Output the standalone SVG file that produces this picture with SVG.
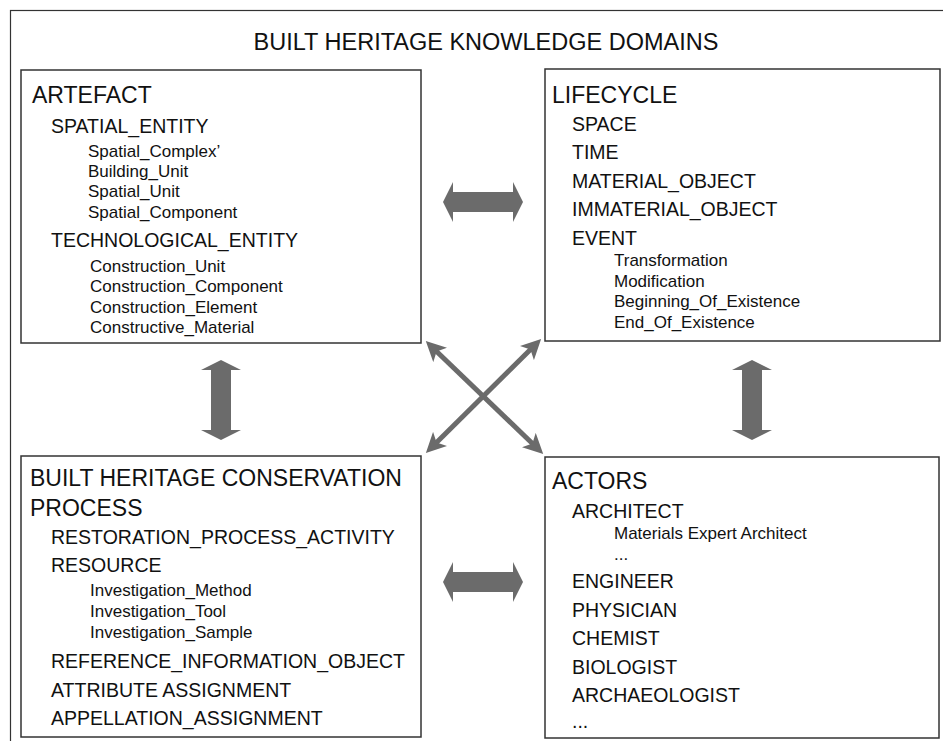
<svg xmlns="http://www.w3.org/2000/svg" width="943" height="741" viewBox="0 0 943 741">
  <style>
    text { font-family: "Liberation Sans", Arial, sans-serif; fill: #111; }
    .title { font-size: 23.5px; }
    .h { font-size: 23px; }
    .l1 { font-size: 19.5px; }
    .l2 { font-size: 17px; }
    .box { fill: #fff; stroke: #333; stroke-width: 1.5; }
    .frame { fill: #fff; stroke: #333; stroke-width: 1.2; }
    .fat { fill: #6b6b6b; }
    .thin { stroke: #6b6b6b; stroke-width: 5; fill: none; }
  </style>
  <defs>
    <marker id="tip" viewBox="0 0 10 10" refX="5" refY="5" markerWidth="4" markerHeight="4" orient="auto-start-reverse" markerUnits="strokeWidth">
      <path d="M0,0 L10,5 L0,10 L2.5,5 z" fill="#6b6b6b"/>
    </marker>
  </defs>

  <rect class="frame" x="10.5" y="10.5" width="940" height="740"/>
  <text class="title" x="486" y="50" text-anchor="middle">BUILT HERITAGE KNOWLEDGE DOMAINS</text>

  <g id="artefact">
    <rect class="box" x="21" y="70" width="400" height="273"/>
    <text class="h" x="32" y="103">ARTEFACT</text>
    <text class="l1" x="51" y="133">SPATIAL_ENTITY</text>
    <text class="l2" x="88" y="157">Spatial_Complex’</text>
    <text class="l2" x="88" y="177">Building_Unit</text>
    <text class="l2" x="88" y="197">Spatial_Unit</text>
    <text class="l2" x="88" y="218">Spatial_Component</text>
    <text class="l1" x="51" y="247">TECHNOLOGICAL_ENTITY</text>
    <text class="l2" x="90" y="272">Construction_Unit</text>
    <text class="l2" x="90" y="292">Construction_Component</text>
    <text class="l2" x="90" y="313">Construction_Element</text>
    <text class="l2" x="90" y="333">Constructive_Material</text>
  </g>

  <g id="lifecycle">
    <rect class="box" x="545" y="69" width="395" height="272"/>
    <text class="h" x="552" y="103">LIFECYCLE</text>
    <text class="l1" x="572" y="131">SPACE</text>
    <text class="l1" x="572" y="159">TIME</text>
    <text class="l1" x="572" y="188">MATERIAL_OBJECT</text>
    <text class="l1" x="572" y="216">IMMATERIAL_OBJECT</text>
    <text class="l1" x="572" y="245">EVENT</text>
    <text class="l2" x="614" y="266">Transformation</text>
    <text class="l2" x="614" y="287">Modification</text>
    <text class="l2" x="614" y="307">Beginning_Of_Existence</text>
    <text class="l2" x="614" y="328">End_Of_Existence</text>
  </g>

  <g id="conservation-process">
    <rect class="box" x="21" y="456" width="400" height="281"/>
    <text class="h" x="30" y="486">BUILT HERITAGE CONSERVATION</text>
    <text class="h" x="30" y="516">PROCESS</text>
    <text class="l1" x="51" y="544">RESTORATION_PROCESS_ACTIVITY</text>
    <text class="l1" x="51" y="572">RESOURCE</text>
    <text class="l2" x="90" y="596">Investigation_Method</text>
    <text class="l2" x="90" y="617">Investigation_Tool</text>
    <text class="l2" x="90" y="638">Investigation_Sample</text>
    <text class="l1" x="51" y="668">REFERENCE_INFORMATION_OBJECT</text>
    <text class="l1" x="51" y="697">ATTRIBUTE ASSIGNMENT</text>
    <text class="l1" x="51" y="725">APPELLATION_ASSIGNMENT</text>
  </g>

  <g id="actors">
    <rect class="box" x="545" y="457" width="394" height="281"/>
    <text class="h" x="552" y="489">ACTORS</text>
    <text class="l1" x="572" y="518">ARCHITECT</text>
    <text class="l2" x="614" y="539">Materials Expert Architect</text>
    <text class="l2" x="614" y="560">...</text>
    <text class="l1" x="572" y="588">ENGINEER</text>
    <text class="l1" x="572" y="617">PHYSICIAN</text>
    <text class="l1" x="572" y="645">CHEMIST</text>
    <text class="l1" x="572" y="674">BIOLOGIST</text>
    <text class="l1" x="572" y="702">ARCHAEOLOGIST</text>
    <text class="l1" x="572" y="728">...</text>
  </g>

  <g id="connectors">
    <!-- block double arrows between neighbouring domains -->
    <polygon class="fat" points="443,202 453,182 453,192 513,192 513,182 523,202 513,222 513,212 453,212 453,222"/>
    <polygon class="fat" points="443,582 453,562 453,572 513,572 513,562 523,582 513,602 513,592 453,592 453,602"/>
    <polygon class="fat" points="221,360 241,370 231,370 231,430 241,430 221,440 201,430 211,430 211,370 201,370"/>
    <polygon class="fat" points="752,360 772,370 762,370 762,430 772,430 752,440 732,430 742,430 742,370 732,370"/>
    <!-- diagonal links -->
    <line class="thin" x1="433" y1="348" x2="536" y2="447" marker-start="url(#tip)" marker-end="url(#tip)"/>
    <line class="thin" x1="534" y1="346" x2="433" y2="446" marker-start="url(#tip)" marker-end="url(#tip)"/>
  </g>
</svg>
